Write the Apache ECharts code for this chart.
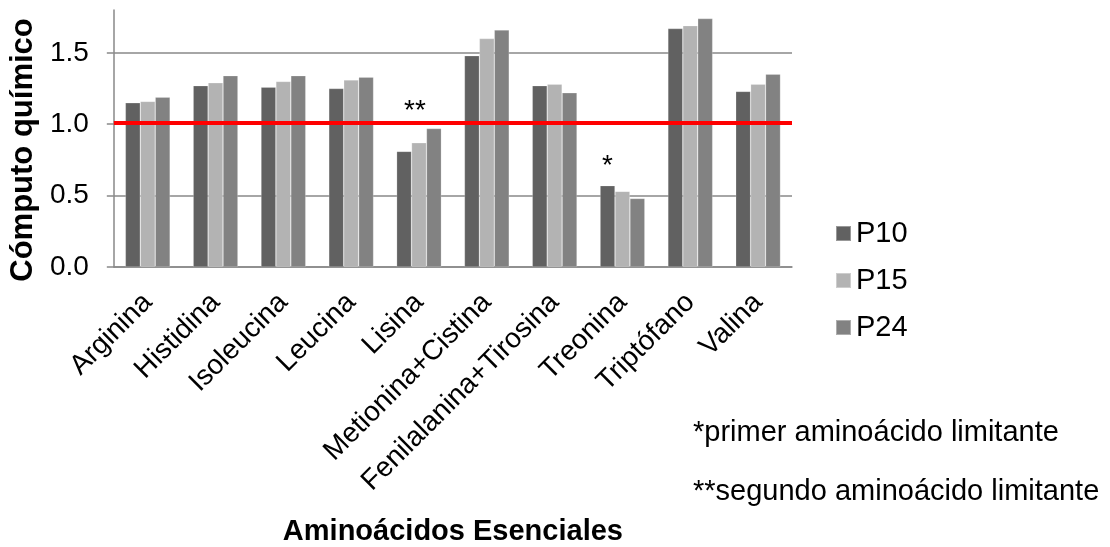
<!DOCTYPE html>
<html>
<head>
<meta charset="utf-8">
<script src="https://cdn.jsdelivr.net/npm/echarts@6/dist/echarts.min.js"></script>
<style>
  html, body { margin: 0; padding: 0; background: #ffffff; }
  #chart { width: 1110px; height: 547px; }
</style>
</head>
<body>
<div id="chart"></div>
<script>
const categories = ["Arginina", "Histidina", "Isoleucina", "Leucina", "Lisina",
  "Metionina+Cistina", "Fenilalanina+Tirosina", "Treonina", "Triptófano", "Valina"];
const seriesNames = ["P10", "P15", "P24"];
const p10 = [1.15, 1.27, 1.26, 1.25, 0.81, 1.48, 1.27, 0.57, 1.67, 1.23];
const p15 = [1.16, 1.29, 1.30, 1.31, 0.87, 1.60, 1.28, 0.53, 1.69, 1.28];
const p24 = [1.19, 1.34, 1.34, 1.33, 0.97, 1.66, 1.22, 0.48, 1.74, 1.35];
const referenceValue = 1.0;
const yTicks = [0, 0.5, 1.0, 1.5];
const footnotes = ["*primer aminoácido limitante", "**segundo aminoácido limitante"];
// asterisk annotations: [series name, category, text]
const annotations = [["P15", "Lisina", "**"], ["P10", "Treonina", "*"]];

const FONT = "'Liberation Sans', Arial, Helvetica, sans-serif";
const colors = { P10: "#616161", P15: "#b3b3b3", P24: "#828282" };
const annStyle = {
  "**": { distance: 18, offset: [-4, 0] },
  "*": { distance: 5, offset: [0, 0] }
};

function buildData(name, values) {
  return values.map((v, i) => {
    const ann = annotations.find(a => a[0] === name && a[1] === categories[i]);
    if (!ann) return v;
    const st = annStyle[ann[2]];
    return {
      value: v,
      label: {
        show: true, position: "top", formatter: ann[2],
        distance: st.distance, offset: st.offset,
        fontFamily: FONT, fontSize: 28, color: "#000"
      }
    };
  });
}

const chart = echarts.init(document.getElementById("chart"), null, { renderer: "canvas" });
const valuesByName = { P10: p10, P15: p15, P24: p24 };

const option = {
  backgroundColor: "#ffffff",
  animation: false,
  textStyle: { fontFamily: FONT },
  grid: { left: 112, right: 318, top: 10, bottom: 280, containLabel: false },
  legend: {
    orient: "vertical",
    left: 835, top: 219,
    padding: 0,
    itemWidth: 15, itemHeight: 15, itemGap: 18,
    icon: "rect",
    textStyle: { fontFamily: FONT, fontSize: 29, color: "#000" },
    data: seriesNames
  },
  xAxis: {
    type: "category",
    data: categories,
    name: "Aminoácidos Esenciales",
    nameLocation: "middle",
    nameGap: 250,
    nameTextStyle: { fontFamily: FONT, fontSize: 29, fontWeight: "bold", color: "#000" },
    axisLine: { show: true, lineStyle: { color: "#898989", width: 1.5 } },
    axisTick: { show: false },
    axisLabel: { interval: 0, rotate: 45, margin: 31, fontFamily: FONT, fontSize: 28, color: "#000" },
    splitLine: { show: false }
  },
  yAxis: {
    type: "value",
    min: 0, max: 1.8, interval: 0.5,
    name: "Cómputo químico",
    nameLocation: "middle",
    nameGap: 74,
    nameTextStyle: { fontFamily: FONT, fontSize: 31, fontWeight: "bold", color: "#000", padding: [0, 23, 0, 0] },
    axisLine: { show: true, lineStyle: { color: "#898989", width: 1.5 } },
    axisTick: { show: true, inside: false, length: 7, lineStyle: { color: "#898989", width: 1.5 } },
    axisLabel: {
      margin: 25, fontFamily: FONT, fontSize: 28, color: "#000",
      showMaxLabel: false,
      formatter: v => (yTicks.indexOf(v) >= 0 ? v.toFixed(1) : "")
    },
    splitLine: { show: true, showMaxLine: false, lineStyle: { color: "#898989", width: 1.5 } }
  },
  series: seriesNames.map((name, idx) => {
    const s = {
      name: name,
      type: "bar",
      data: buildData(name, valuesByName[name]),
      barGap: "0%",
      barCategoryGap: "34%",
      itemStyle: { color: colors[name], borderColor: "rgba(255,255,255,0.35)", borderWidth: 0.6 },
      emphasis: { disabled: true }
    };
    if (idx === 2) {
      s.markLine = {
        silent: true,
        symbol: ["none", "none"],
        label: { show: false },
        lineStyle: { color: "#ff0000", width: 4, type: "solid" },
        data: [{ yAxis: referenceValue + 0.007 }]
      };
    }
    return s;
  }),
  graphic: footnotes.map((t, i) => ({
    type: "text",
    left: 693,
    top: (i === 0 ? 433 : 492) - 15,
    style: { text: t, fontFamily: FONT, fontSize: 29, fill: "#000" }
  }))
};

chart.setOption(option);
</script>
</body>
</html>
